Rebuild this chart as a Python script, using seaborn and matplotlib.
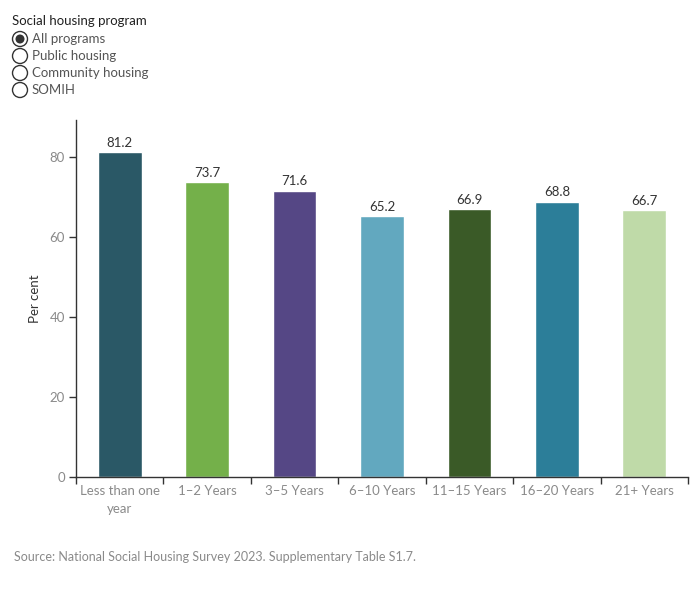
import matplotlib
matplotlib.use("Agg")
import matplotlib.pyplot as plt
import seaborn as sns
import pandas as pd
from matplotlib.patches import Circle

categories = ["Less than one\nyear", "1\u20132 Years", "3\u20135 Years", "6\u201310 Years",
              "11\u201315 Years", "16\u201320 Years", "21+ Years"]
values = [81.2, 73.7, 71.6, 65.2, 66.9, 68.8, 66.7]
colors = ["#2a5866", "#74b04a", "#554785", "#62a8bf", "#3a5a27", "#2c7e99", "#bfdaa8"]
legend_title = "Social housing program"
legend_items = ["All programs", "Public housing", "Community housing", "SOMIH"]
yticks = [0, 20, 40, 60, 80]
source = "Source: National Social Housing Survey 2023. Supplementary Table S1.7."

sns.set_theme(style="white")
plt.rcParams['font.family'] = ['Lato', 'DejaVu Sans']

W, H = 700, 600
fig = plt.figure(figsize=(7, 6), dpi=100)
ax = fig.add_axes([76 / W, 1 - 477 / H, (688 - 76) / W, (477 - 120) / H])

df = pd.DataFrame({"cat": categories, "val": values})
sns.barplot(data=df, x="cat", y="val", hue="cat", palette=colors, legend=False,
            width=0.5, ax=ax, saturation=1)

ax.set_xlim(-0.5, len(categories) - 0.5)
ax.set_ylim(0, 89.25)
ax.set_yticks(yticks)
ax.set_yticklabels([str(t) for t in yticks], color="#8a8a8a", fontsize=9.5)
ax.set_xlabel("")
ax.set_ylabel("Per cent", color="#333333", fontsize=9.5, labelpad=6)
ax.tick_params(axis="x", which="major", length=0, pad=6, labelcolor="#8a8a8a", labelsize=9.5)
for lbl in ax.get_xticklabels():
    lbl.set_linespacing(1.55)
ax.set_xticks([i - 0.5 for i in range(len(categories) + 1)], minor=True)
ax.tick_params(axis="x", which="minor", length=5, width=1, color="#333333", direction="out", bottom=True)
ax.tick_params(axis="y", length=5, width=1, color="#333333", direction="out", left=True, pad=3)

for s in ["top", "right"]:
    ax.spines[s].set_visible(False)
for s in ["left", "bottom"]:
    ax.spines[s].set_color("#333333")
    ax.spines[s].set_linewidth(1)

for i, v in enumerate(values):
    ax.text(i, v + 0.9, f"{v:.1f}", ha="center", va="bottom", fontsize=9.5, color="#333333")

# legend (radio buttons)
ov = fig.add_axes([0, 0, 1, 1], zorder=5)
ov.set_xlim(0, W)
ov.set_ylim(H, 0)
ov.axis("off")
ov.patch.set_alpha(0)
ov.text(12, 21, legend_title, fontsize=9.5, color="#222222", va="center", ha="left")
for k, item in enumerate(legend_items):
    y = 39 + k * 17
    ov.add_patch(Circle((20, y), 7.5, facecolor="white", edgecolor="#333333", lw=1))
    if k == 0:
        ov.add_patch(Circle((20, y), 4.5, facecolor="#333333", edgecolor="none"))
    ov.text(32, y, item, fontsize=9.5, color="#555555", va="center", ha="left")

ov.text(14, 557, source, fontsize=9, color="#8a8a8a", va="center", ha="left")

fig.savefig("out.png", dpi=100)
